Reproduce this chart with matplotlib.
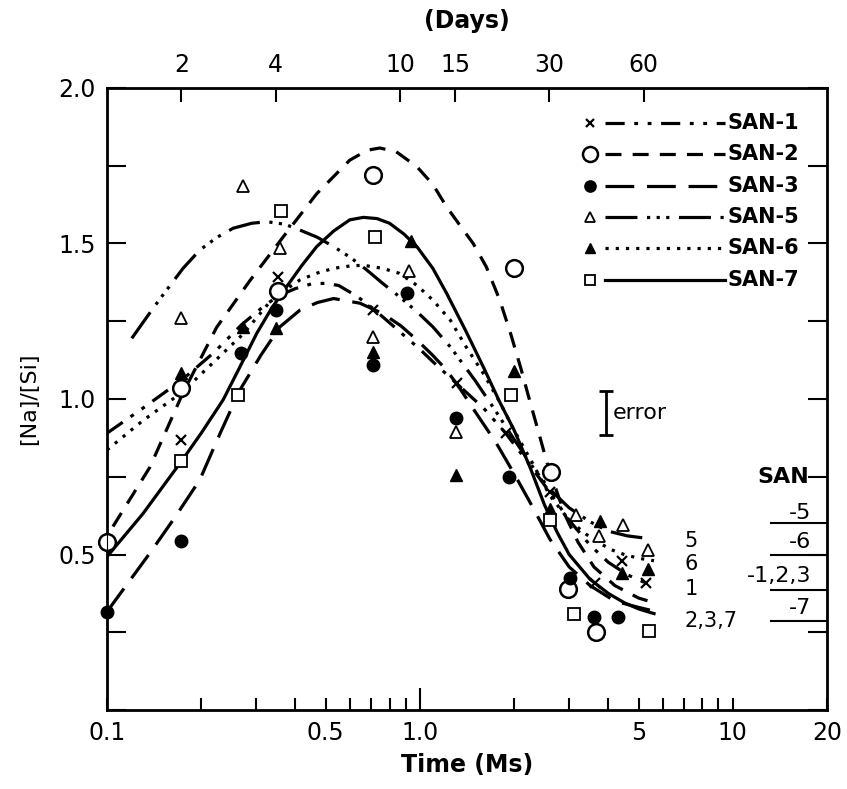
import matplotlib
matplotlib.use("Agg")
import matplotlib.pyplot as plt
import numpy as np

plt.rcParams['font.family'] = ['DejaVu Sans']

# ---------------- data ----------------
# measured points (Time in Ms, [Na]/[Si])
san1_t = [0.173, 0.352, 0.709, 1.31, 1.88, 2.60, 3.63, 4.44, 5.27]
san1_v = [0.868, 1.393, 1.286, 1.05, 0.89, 0.70, 0.41, 0.48, 0.41]
san2_t = [0.10, 0.173, 0.352, 0.709, 2.0, 2.62, 2.98, 3.66]
san2_v = [0.54, 1.035, 1.348, 1.72, 1.42, 0.766, 0.39, 0.25]
san3_t = [0.10, 0.172, 0.269, 0.348, 0.709, 0.91, 1.30, 1.93, 3.02, 3.60, 4.30]
san3_v = [0.316, 0.545, 1.147, 1.286, 1.109, 1.34, 0.938, 0.75, 0.423, 0.30, 0.30]
san5_t = [0.173, 0.273, 0.357, 0.709, 0.92, 1.30, 3.15, 3.73, 4.46, 5.36]
san5_v = [1.261, 1.685, 1.487, 1.20, 1.41, 0.895, 0.627, 0.56, 0.595, 0.515]
san6_t = [0.173, 0.273, 0.348, 0.709, 0.94, 1.30, 2.0, 2.60, 3.76, 4.41, 5.36]
san6_v = [1.083, 1.232, 1.228, 1.152, 1.508, 0.756, 1.09, 0.645, 0.608, 0.44, 0.452]
san7_t = [0.173, 0.263, 0.361, 0.718, 1.96, 2.60, 3.10, 5.40]
san7_v = [0.80, 1.013, 1.604, 1.522, 1.013, 0.61, 0.31, 0.255]

# fitted curves
c1_t = [0.10, 0.13, 0.173, 0.22, 0.27, 0.31, 0.35, 0.40, 0.45, 0.50, 0.55, 0.63, 0.71, 0.80, 0.90, 1.0, 1.1, 1.31, 1.6, 1.88, 2.2, 2.6, 3.0, 3.5, 4.0, 4.6, 5.5]
c1_v = [0.89, 0.97, 1.06, 1.15, 1.24, 1.29, 1.33, 1.355, 1.37, 1.372, 1.365, 1.33, 1.29, 1.245, 1.20, 1.16, 1.12, 1.05, 0.97, 0.89, 0.80, 0.70, 0.61, 0.53, 0.475, 0.435, 0.40]
c2_t = [0.1045, 0.137, 0.175, 0.224, 0.286, 0.365, 0.468, 0.597, 0.68, 0.745, 0.84, 0.978, 1.1, 1.217, 1.35, 1.48, 1.63, 1.80, 1.95, 2.1, 2.25, 2.4, 2.54, 2.7, 2.9, 3.2, 3.6, 4.2, 5.0, 5.6]
c2_v = [0.59, 0.78, 1.02, 1.23, 1.38, 1.52, 1.66, 1.768, 1.80, 1.807, 1.795, 1.747, 1.69, 1.618, 1.555, 1.50, 1.425, 1.318, 1.21, 1.10, 0.99, 0.89, 0.80, 0.72, 0.63, 0.54, 0.46, 0.40, 0.36, 0.345]
c3_t = [0.10, 0.137, 0.165, 0.198, 0.23, 0.266, 0.31, 0.357, 0.414, 0.47, 0.53, 0.643, 0.76, 0.87, 0.978, 1.1, 1.217, 1.35, 1.5, 1.75, 2.0, 2.3, 2.6, 3.0, 3.5, 4.2, 5.0, 5.5]
c3_v = [0.316, 0.504, 0.62, 0.74, 0.89, 1.029, 1.14, 1.232, 1.286, 1.31, 1.323, 1.308, 1.275, 1.235, 1.19, 1.14, 1.093, 1.03, 0.96, 0.86, 0.76, 0.65, 0.55, 0.46, 0.40, 0.35, 0.33, 0.32]
c5_t = [0.12, 0.14, 0.155, 0.175, 0.198, 0.225, 0.253, 0.29, 0.324, 0.37, 0.414, 0.47, 0.53, 0.60, 0.676, 0.76, 0.86, 0.98, 1.10, 1.25, 1.5, 1.75, 2.0, 2.3, 2.6, 3.0, 3.5, 4.0, 4.6, 5.5]
c5_v = [1.195, 1.29, 1.35, 1.42, 1.479, 1.52, 1.549, 1.565, 1.57, 1.562, 1.543, 1.52, 1.49, 1.455, 1.415, 1.372, 1.329, 1.28, 1.232, 1.168, 1.06, 0.96, 0.87, 0.78, 0.71, 0.65, 0.605, 0.575, 0.56, 0.55]
c6_t = [0.10, 0.13, 0.173, 0.22, 0.273, 0.33, 0.37, 0.414, 0.47, 0.53, 0.60, 0.66, 0.76, 0.86, 0.98, 1.10, 1.25, 1.4, 1.6, 1.8, 2.0, 2.3, 2.6, 3.0, 3.4, 3.7, 4.1, 4.5, 5.0, 5.6]
c6_v = [0.836, 0.93, 1.02, 1.12, 1.21, 1.31, 1.35, 1.383, 1.405, 1.42, 1.428, 1.43, 1.42, 1.404, 1.365, 1.318, 1.254, 1.17, 1.08, 0.99, 0.90, 0.79, 0.69, 0.61, 0.565, 0.54, 0.515, 0.50, 0.488, 0.48]
c7_t = [0.10, 0.13, 0.173, 0.20, 0.235, 0.265, 0.301, 0.335, 0.375, 0.42, 0.468, 0.53, 0.597, 0.66, 0.73, 0.80, 0.89, 0.978, 1.1, 1.217, 1.4, 1.6, 1.8, 2.0, 2.25, 2.5, 2.75, 3.0, 3.5, 4.0, 4.5, 5.0, 5.6]
c7_v = [0.493, 0.63, 0.80, 0.89, 0.997, 1.10, 1.211, 1.29, 1.361, 1.43, 1.49, 1.54, 1.576, 1.584, 1.58, 1.565, 1.53, 1.49, 1.42, 1.34, 1.22, 1.10, 0.99, 0.90, 0.78, 0.66, 0.57, 0.50, 0.42, 0.375, 0.345, 0.325, 0.31]

names = ["SAN-1", "SAN-2", "SAN-3", "SAN-5", "SAN-6", "SAN-7"]
bottom_ticks = [0.1, 0.5, 1.0, 5, 10, 20]
bottom_labels = ["0.1", "0.5", "1.0", "5", "10", "20"]
day_ticks = [2, 4, 10, 15, 30, 60]
day_labels = ["2", "4", "10", "15", "30", "60"]
y_tick_vals = [0, 0.25, 0.5, 0.75, 1.0, 1.25, 1.5, 1.75, 2.0]
y_tick_labels = ["", "", "0.5", "", "1.0", "", "1.5", "", "2.0"]
end_labels = ["5", "6", "1", "2,3,7"]
end_label_v = [0.545, 0.47, 0.39, 0.287]
san_scale = ["-5", "-6", "-1,2,3", "-7"]
san_scale_v = [0.633, 0.54, 0.43, 0.328]
san_scale_line = [0.60, 0.50, 0.386, 0.287]
error_t = 3.94
error_v = 0.955
error_half = 0.07

# ---------------- plot ----------------
fig = plt.figure(figsize=(8.47, 7.89), dpi=100)
ax = fig.add_axes([0.1263, 0.1001, 0.8501, 0.7884])
ax.set_xscale('log')
ax.set_xlim(0.1, 20)
ax.set_ylim(0, 2.0)

k = 'black'
lw = 2.3
styles = {
    "SAN-1": dict(ls=(0, (6, 3, 1.2, 3, 1.2, 3)), marker='x', mfc=k, ms=7, mew=1.6),
    "SAN-2": dict(ls=(0, (5, 3.5)), marker='o', mfc='white', ms=12, mew=1.8),
    "SAN-3": dict(ls=(0, (9, 4)), marker='o', mfc=k, ms=9, mew=1),
    "SAN-5": dict(ls=(0, (10, 3, 1, 2, 1, 2, 1, 3)), marker='^', mfc='white', ms=8, mew=1.3),
    "SAN-6": dict(ls=(0, (1, 2.2)), marker='^', mfc=k, ms=8, mew=1),
    "SAN-7": dict(ls='-', marker='s', mfc='white', ms=8, mew=1.3),
}
curves = [(c1_t, c1_v), (c2_t, c2_v), (c3_t, c3_v), (c5_t, c5_v), (c6_t, c6_v), (c7_t, c7_v)]
pts = [(san1_t, san1_v), (san2_t, san2_v), (san3_t, san3_v), (san5_t, san5_v), (san6_t, san6_v), (san7_t, san7_v)]

for name, (ct, cv), (pt, pv) in zip(names, curves, pts):
    st = styles[name]
    ax.plot(ct, cv, color=k, lw=lw, ls=st['ls'], dash_capstyle='butt', solid_joinstyle='round')
    ax.plot(pt, pv, ls='none', marker=st['marker'], mfc=st['mfc'], mec=k,
            ms=st['ms'], mew=st['mew'], clip_on=False, zorder=5)

# legend (drawn manually, top right)
leg_x0, leg_x1 = 0.691, 0.858
for i, name in enumerate(names):
    st = styles[name]
    yy = 0.944 - i * 0.0505
    ax.plot([0.671], [yy], transform=ax.transAxes, marker=st['marker'], mfc=st['mfc'],
            mec=k, ms=st['ms'] * 0.9, mew=st['mew'], ls='none', clip_on=False)
    ax.plot([leg_x0, leg_x1], [yy, yy], transform=ax.transAxes, color=k, lw=lw,
            ls=st['ls'], dash_capstyle='butt')
    ax.text(leg_x1 + 0.004, yy, name, transform=ax.transAxes, ha='left', va='center',
            fontsize=15, fontweight='bold')

# error bar
ax.errorbar([error_t], [error_v], yerr=[error_half], fmt='none', ecolor=k,
            elinewidth=2, capsize=5, capthick=2)
ax.text(error_t * 1.05, error_v, "error", ha='left', va='center', fontsize=16)

# end labels
for lab, v in zip(end_labels, end_label_v):
    ax.text(7.0, v, lab, ha='left', va='center', fontsize=15)

# SAN scale at right
ax.text(12.0, 0.75, "SAN", ha='left', va='center', fontsize=16, fontweight='bold')
for lab, v, lv in zip(san_scale, san_scale_v, san_scale_line):
    ax.text(17.8, v, lab, ha='right', va='center', fontsize=16)
    ax.plot([13.2, 20], [lv, lv], color=k, lw=1.5, clip_on=False)

# axes styling
for sp in ax.spines.values():
    sp.set_linewidth(2)
ax.set_xticks(bottom_ticks)
ax.set_xticklabels(bottom_labels)
ax.xaxis.set_minor_locator(matplotlib.ticker.LogLocator(base=10, subs=np.arange(2, 10)))
ax.xaxis.set_minor_formatter(matplotlib.ticker.NullFormatter())
ax.tick_params(axis='x', which='both', direction='in', length=9, width=1.5, labelsize=17, pad=8, top=False)
ax.get_xticklines()[4].set_markersize(16)   # longer tick at 1.0
ax.set_yticks(y_tick_vals)
ax.set_yticklabels(y_tick_labels)
ax.tick_params(axis='y', which='both', direction='in', length=14, width=1.5, labelsize=17,
               right=True, pad=8)
ax.set_xlabel("Time (Ms)", fontsize=17, fontweight='semibold', labelpad=6)
ax.set_ylabel("[Na]/[Si]", fontsize=16, labelpad=14)

# top axis in days
axt = ax.twiny()
axt.set_xscale('log')
axt.set_xlim(ax.get_xlim())
axt.set_xticks([d * 0.0864 for d in day_ticks])
axt.set_xticklabels(day_labels)
axt.xaxis.set_minor_locator(matplotlib.ticker.NullLocator())
axt.tick_params(axis='x', direction='in', length=10, width=1.5, labelsize=17, pad=8)
axt.set_xlabel("(Days)", fontsize=17, fontweight='semibold', labelpad=18)

fig.savefig("out.png", dpi=100)
